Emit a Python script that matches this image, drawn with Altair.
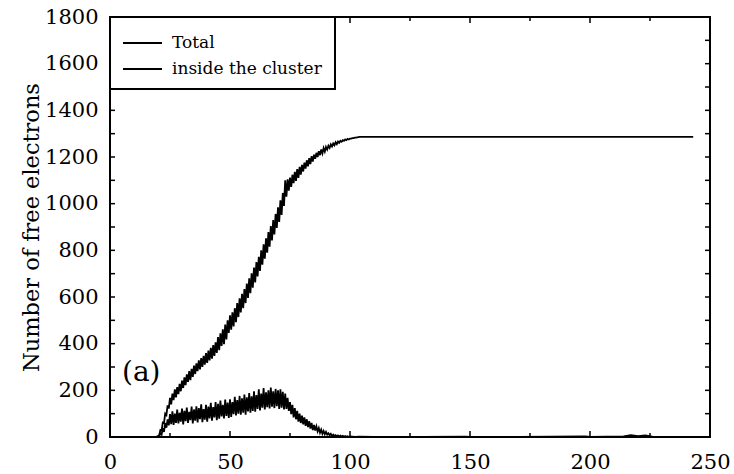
import altair as alt
import pandas as pd

series_names = ["Total", "inside the cluster"]

# Total number of free electrons, t = 18, 19, then 20..105 every 0.5, then 243
time_total = [18, 19] + [20 + 0.5 * i for i in range(171)] + [243]
n_total = [0, 0,
    4, 8, 30, 28, 62, 60, 100, 94, 136, 122,
    168, 140, 186, 158, 204, 170, 214, 184, 228, 196,
    242, 210, 256, 222, 268, 236, 282, 244, 292, 258,
    306, 270, 316, 282, 328, 290, 338, 300, 348, 310,
    360, 318, 370, 328, 382, 336, 394, 348, 406, 360,
    428, 372, 444, 390, 462, 398, 482, 418, 500, 446,
    522, 460, 534, 474, 552, 492, 574, 514, 594, 534,
    614, 552, 634, 574, 658, 596, 680, 616, 702, 640,
    726, 662, 750, 688, 772, 712, 800, 738, 826, 764,
    852, 790, 878, 816, 904, 842, 930, 868, 956, 896,
    984, 922, 1014, 952, 1046, 990, 1100, 1030, 1104, 1056,
    1112, 1072, 1124, 1088, 1136, 1098, 1148, 1110, 1158, 1124,
    1166, 1138, 1176, 1150, 1186, 1160, 1195, 1170, 1204, 1180,
    1210, 1192, 1218, 1200, 1225, 1208, 1232, 1215, 1238, 1223,
    1243, 1232, 1248, 1239, 1254, 1245, 1258, 1250, 1263, 1255,
    1266, 1261, 1269, 1265, 1272, 1269, 1275, 1272, 1278, 1275,
    1279, 1279, 1281, 1281, 1283, 1283, 1284, 1285, 1286, 1286,
    1286,
    1286]

# Free electrons inside the cluster
time_inside = [18, 19] + [20 + 0.5 * i for i in range(161)] + [
    102, 104, 110, 130, 148, 150, 170, 198, 200, 214, 217, 220, 223, 226, 230, 243]
n_inside = [0, 0,
    2, 6, 15, 10, 38, 22, 60, 40, 75, 50,
    98, 55, 110, 52, 100, 60, 118, 58, 104, 66,
    122, 54, 112, 68, 126, 60, 108, 72, 130, 58,
    118, 70, 132, 62, 124, 76, 140, 64, 120, 74,
    138, 66, 130, 80, 146, 70, 128, 84, 150, 72,
    142, 78, 156, 88, 138, 80, 160, 90, 148, 82,
    162, 86, 150, 98, 172, 92, 158, 100, 176, 96,
    166, 104, 182, 96, 170, 110, 188, 104, 174, 112,
    196, 108, 180, 120, 204, 114, 186, 126, 210, 118,
    192, 128, 200, 122, 212, 130, 196, 124, 206, 132,
    200, 120, 204, 126, 194, 118, 186, 120, 168, 112,
    150, 98, 138, 84, 124, 76, 112, 66, 100, 60,
    92, 54, 84, 48, 76, 42, 68, 36, 60, 30,
    52, 28, 46, 24, 38, 18, 32, 14, 26, 12,
    22, 10, 16, 8, 14, 5, 10, 4, 8, 3,
    7, 2, 6, 2, 5, 1, 4, 1, 3, 0,
    2,
    0, 1, 0, 0, 2, 0, 0, 3, 0, 3, 8, 4, 7, 2, 0, 0]

x_major = [0, 50, 100, 150, 200, 250]
x_minor = [25, 75, 125, 175, 225]
y_major = [0, 200, 400, 600, 800, 1000, 1200, 1400, 1600, 1800]
y_minor = [100, 300, 500, 700, 900, 1100, 1300, 1500, 1700]

y_title = "Number of free electrons"
panel_label = "(a)"
panel_pos = [5, 274]

W, H = 600, 420
FONT = "DejaVu Serif"

df = pd.concat([
    pd.DataFrame({"t": time_total, "n": n_total, "s": series_names[0]}),
    pd.DataFrame({"t": time_inside, "n": n_inside, "s": series_names[1]}),
])

xs = alt.Scale(domain=[0, 250], nice=False, zero=False)
ys = alt.Scale(domain=[0, 1800], nice=False)

ax_x = alt.Axis(title="", values=x_major, format="d", ticks=False, domain=False, grid=False,
                labelFont=FONT, labelFontSize=21, labelColor="black",
                labelPadding=14, labelFlush=False)
ax_y = alt.Axis(title=y_title, values=y_major, format="d", ticks=False, domain=False, grid=False,
                labelFont=FONT, labelFontSize=21, labelColor="black", labelPadding=12,
                titleFont=FONT, titleFontSize=22.5, titleFontWeight="normal",
                titleColor="black", titlePadding=1)

lines = alt.Chart(df).mark_line(color="black", strokeWidth=1.8, clip=True).encode(
    x=alt.X("t:Q", scale=xs, axis=ax_x),
    y=alt.Y("n:Q", scale=ys, axis=ax_y),
    detail="s:N",
)

def xticks(vals, size):
    d = pd.DataFrame({"t": vals})
    bot = alt.Chart(d).mark_rule(color="black", strokeWidth=1.5).encode(
        x=alt.X("t:Q", scale=xs, axis=ax_x), y=alt.value(H), y2=alt.value(H - size))
    top = alt.Chart(d).mark_rule(color="black", strokeWidth=1.5).encode(
        x=alt.X("t:Q", scale=xs, axis=ax_x), y=alt.value(0), y2=alt.value(size))
    return [bot, top]

def yticks(vals, size):
    d = pd.DataFrame({"n": vals})
    left = alt.Chart(d).mark_rule(color="black", strokeWidth=1.5).encode(
        y=alt.Y("n:Q", scale=ys, axis=ax_y), x=alt.value(0), x2=alt.value(size))
    right = alt.Chart(d).mark_rule(color="black", strokeWidth=1.5).encode(
        y=alt.Y("n:Q", scale=ys, axis=ax_y), x=alt.value(W), x2=alt.value(W - size))
    return [left, right]

tick_layers = xticks(x_major, 6) + xticks(x_minor, 4) + yticks(y_major, 5) + yticks(y_minor, 5)

one = pd.DataFrame({"a": [0]})
legend_box = alt.Chart(one).mark_rect(fill="white", stroke="black", strokeWidth=2).encode(
    x=alt.value(0), x2=alt.value(225), y=alt.value(0), y2=alt.value(72))
legend_parts = [legend_box]
for i, name in enumerate(series_names):
    yy = 26 + 26 * i
    legend_parts.append(alt.Chart(one).mark_rule(color="black", strokeWidth=1.8).encode(
        x=alt.value(13), x2=alt.value(52), y=alt.value(yy)))
    legend_parts.append(alt.Chart(pd.DataFrame({"label": [name]})).mark_text(
        align="left", baseline="middle", font=FONT, fontSize=17, color="black").encode(
        x=alt.value(62), y=alt.value(yy), text="label:N"))

panel = alt.Chart(pd.DataFrame({"t": [panel_pos[0]], "n": [panel_pos[1]], "txt": [panel_label]})).mark_text(
    align="left", baseline="middle", font=FONT, fontSize=28, color="black").encode(
    x=alt.X("t:Q", scale=xs, axis=ax_x), y=alt.Y("n:Q", scale=ys, axis=ax_y), text="txt:N")

chart = alt.layer(lines, *tick_layers, panel, *legend_parts).properties(
    width=W, height=H,
    background="white",
    autosize=alt.AutoSizeParams(type="none"),
    padding={"left": 110, "top": 17, "right": 24, "bottom": 37},
).configure_view(stroke="black", strokeWidth=2)

chart.save("out.html", embed_options={"renderer": "svg", "actions": False})
